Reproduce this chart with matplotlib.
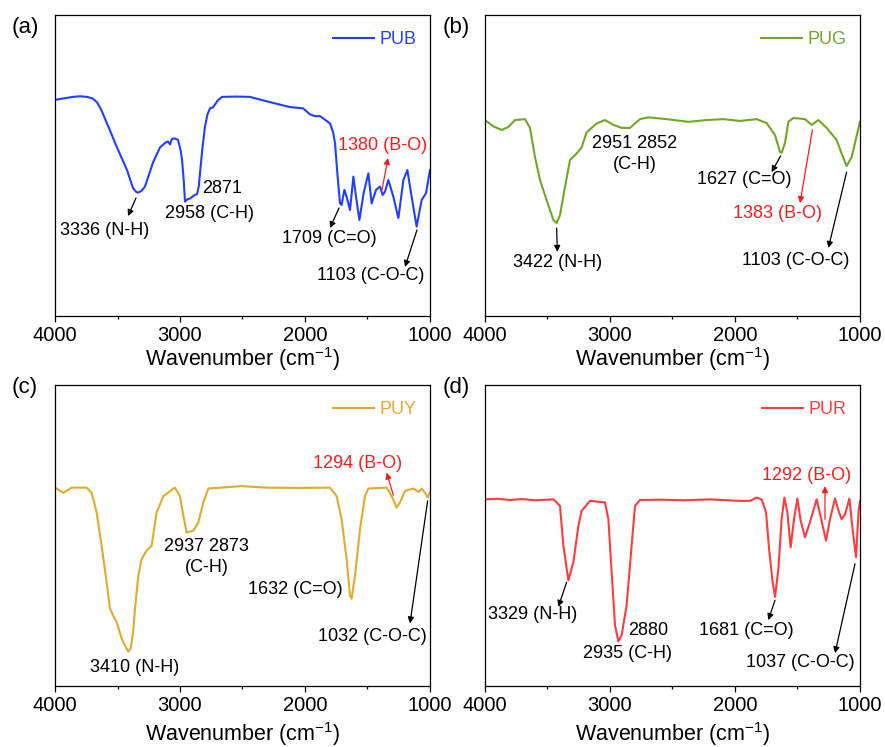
import matplotlib
matplotlib.use('Agg')
import matplotlib.pyplot as plt
from matplotlib.ticker import MultipleLocator

plt.rcParams['font.family'] = ['Liberation Sans', 'DejaVu Sans']
plt.rcParams['mathtext.fontset'] = 'custom'
plt.rcParams['mathtext.rm'] = 'Liberation Sans'
plt.rcParams['mathtext.default'] = 'regular'

# spectra (wavenumber, transmittance a.u.)
wn_pub = [4000, 3930, 3856, 3800, 3744, 3700, 3664, 3630, 3584, 3504, 3424, 3376, 3350, 3336, 3310,
          3280, 3216, 3160, 3120, 3096, 3080, 3065, 3040, 3016, 2995, 2984, 2970, 2960, 2940, 2920,
          2890, 2864, 2850, 2840, 2820, 2800, 2780, 2760, 2736, 2700, 2664, 2550, 2440, 2350, 2256,
          2120, 2016, 1960, 1920, 1880, 1840, 1800, 1775, 1760, 1739, 1720, 1707, 1685, 1667, 1640,
          1613, 1590, 1565, 1530, 1493, 1467, 1432, 1400, 1379, 1360, 1333, 1293, 1253, 1213, 1181,
          1147, 1107, 1067, 1032, 1000]
t_pub = [71.8, 72.3, 72.8, 73.0, 72.8, 72.3, 71.0, 68.5, 64.0, 56.0, 48.5, 42.5, 41.2, 41.0, 41.5,
         43.0, 51.0, 56.0, 57.5, 58.0, 57.0, 58.8, 59.0, 58.5, 55.0, 52.0, 45.0, 38.0, 38.8, 39.0,
         40.0, 40.5, 43.0, 47.5, 56.0, 63.0, 67.0, 69.0, 69.3, 71.5, 72.8, 72.9, 72.8, 71.8, 70.8,
         69.4, 69.0, 67.0, 66.4, 66.4, 65.2, 64.0, 61.0, 57.4, 46.3, 37.4, 36.9, 41.9, 39.6, 35.2,
         46.3, 39.0, 31.9, 41.0, 47.4, 37.4, 41.9, 43.0, 40.2, 41.3, 45.2, 39.6, 32.5, 45.2, 48.5,
         39.6, 29.7, 38.5, 40.8, 48.5]

wn_pug = [4000, 3933, 3867, 3813, 3760, 3680, 3640, 3600, 3560, 3507, 3453, 3427, 3400, 3360, 3320,
          3267, 3227, 3187, 3107, 3040, 2973, 2907, 2840, 2760, 2693, 2547, 2373, 2227, 2093, 1960,
          1827, 1747, 1680, 1640, 1627, 1600, 1573, 1533, 1440, 1387, 1333, 1267, 1187, 1147, 1107,
          1067, 1000]
t_pug = [65.1, 63.0, 61.8, 62.8, 65.1, 65.4, 62.5, 52.8, 45.2, 38.5, 31.9, 30.9, 33.5, 42.9, 51.8,
         54.0, 56.0, 61.0, 64.0, 65.1, 63.5, 62.5, 62.5, 65.4, 66.0, 65.4, 64.5, 65.1, 65.4, 64.8,
         65.4, 64.1, 60.1, 54.5, 54.2, 57.5, 64.5, 65.8, 65.4, 63.5, 65.1, 62.5, 58.5, 54.0, 49.8,
         52.8, 64.5]

wn_puy = [4000, 3933, 3867, 3747, 3707, 3667, 3627, 3587, 3560, 3530, 3507, 3467, 3435, 3413, 3395,
          3375, 3360, 3333, 3307, 3267, 3227, 3187, 3133, 3040, 3000, 2973, 2947, 2893, 2853, 2813,
          2773, 2507, 2307, 2040, 1800, 1747, 1707, 1667, 1640, 1627, 1600, 1560, 1520, 1493, 1347,
          1307, 1267, 1240, 1200, 1133, 1093, 1067, 1040, 1019, 1000]
t_puy = [65.9, 64.2, 65.9, 65.9, 64.2, 57.7, 46.6, 34.5, 25.7, 23.0, 21.3, 15.8, 13.0, 11.4, 12.5,
         18.0, 25.7, 36.7, 42.2, 45.0, 46.6, 57.7, 63.1, 65.9, 63.1, 56.5, 51.0, 51.6, 54.4, 61.0,
         65.6, 66.4, 65.9, 65.8, 65.9, 63.1, 55.4, 42.2, 30.1, 29.0, 36.7, 52.1, 63.1, 65.6, 65.9,
         63.1, 59.3, 61.0, 64.8, 65.6, 64.5, 65.6, 64.2, 62.6, 64.5]

wn_pur = [4000, 3900, 3800, 3700, 3600, 3450, 3400, 3373, 3333, 3293, 3253, 3227, 3160, 3040, 3013,
          2987, 2960, 2933, 2907, 2867, 2827, 2800, 2760, 2600, 2400, 2200, 1960, 1880, 1827, 1787,
          1752, 1725, 1699, 1680, 1653, 1627, 1605, 1581, 1555, 1528, 1501, 1475, 1440, 1400, 1347,
          1310, 1272, 1240, 1200, 1170, 1147, 1120, 1085, 1059, 1032, 1011, 1000]
t_pur = [62.0, 62.2, 61.8, 62.1, 61.7, 62.0, 59.8, 46.6, 35.1, 41.2, 53.2, 58.2, 61.5, 61.0, 55.4,
         37.9, 20.2, 14.8, 16.9, 26.8, 46.6, 59.8, 61.8, 61.9, 61.7, 62.0, 61.5, 61.5, 62.6, 62.0,
         57.7, 44.5, 34.6, 29.6, 38.9, 55.4, 62.6, 57.7, 46.1, 55.4, 62.3, 55.0, 49.4, 54.5, 62.0,
         55.4, 48.3, 55.4, 62.3, 58.0, 55.4, 57.0, 62.3, 52.0, 42.8, 58.2, 61.5]

names = ['PUB', 'PUG', 'PUY', 'PUR']
colors = ['#2040ff', '#6fa825', '#e3aa2c', '#ff3b3b']
panel_tags = ['(a)', '(b)', '(c)', '(d)']

W, H = 885, 747
fig = plt.figure(figsize=(W / 100, H / 100), dpi=100)


def px_axes(l, t, r, b):
    return fig.add_axes([l / W, 1 - b / H, (r - l) / W, (b - t) / H])


axs = [px_axes(55, 15, 430, 316), px_axes(485, 15, 860, 316),
       px_axes(55, 385, 430, 686), px_axes(485, 385, 860, 686)]
data = [(wn_pub, t_pub), (wn_pug, t_pug), (wn_puy, t_puy), (wn_pur, t_pur)]
label_y = [-0.142, -0.142, -0.158, -0.158]

for ax, (wn, t), nm, c, ly in zip(axs, data, names, colors, label_y):
    ax.plot(wn, t, color=c, lw=1.5, label=nm)
    ax.set_xlim(4000, 1000)
    ax.set_ylim(0, 100)
    ax.set_yticks([])
    ax.xaxis.set_major_locator(MultipleLocator(1000))
    ax.xaxis.set_minor_locator(MultipleLocator(500))
    ax.tick_params(axis='x', which='major', direction='out', length=4.5, width=0.9,
                   labelsize=14.5, pad=3)
    ax.tick_params(axis='x', which='minor', direction='out', length=2.5, width=0.9)
    for s in ax.spines.values():
        s.set_linewidth(0.9)
    ax.set_xlabel('Wavenumber (cm$^{-1}$)', fontsize=15.5, va='center')
    ax.xaxis.set_label_coords(0.5, ly)
    ax.legend(loc='center right', bbox_to_anchor=(0.965, 0.917), frameon=False,
              fontsize=13, handlelength=2.3, handletextpad=0.3, borderpad=0,
              borderaxespad=0, labelcolor='linecolor')

for tag, (x, y) in zip(panel_tags, [(12, 28), (443, 28), (12, 387), (443, 387)]):
    fig.text(x / W, 1 - y / H, tag, fontsize=16, va='center', ha='left')

fs = 13
red = '#ff1a1a'


def label(ax, x, y, s, color='k', ha='left'):
    ax.text(x, y, s, fontsize=fs, color=color, ha=ha, va='center', linespacing=1.3)


def arrow(ax, tail, head, color='k'):
    ax.annotate('', xy=head, xytext=tail,
                arrowprops=dict(arrowstyle='-|>', color=color, lw=0.9,
                                mutation_scale=9, shrinkA=0, shrinkB=0))


# (a)
ax = axs[0]
label(ax, 3960, 28.5, '3336 (N-H)')
arrow(ax, (3352, 39.2), (3416, 33.2))
label(ax, 3120, 34.2, '2958 (C-H)')
label(ax, 2824, 42.5, '2871')
label(ax, 2184, 25.6, '1709 (C=O)')
arrow(ax, (1728, 35.9), (1800, 29.2))
label(ax, 1736, 56.8, '1380 (B-O)', color=red)
arrow(ax, (1384, 41.9), (1336, 52.5), color=red)
label(ax, 1904, 13.3, '1103 (C-O-C)')
arrow(ax, (1104, 28.6), (1200, 16.3))

# (b)
ax = axs[1]
label(ax, 3776, 17.9, '3422 (N-H)')
arrow(ax, (3427, 29.2), (3421, 21.3))
label(ax, 2804, 53.7, '2951 2852\n(C-H)', ha='center')
label(ax, 2304, 45.2, '1627 (C=O)')
arrow(ax, (1635, 53.2), (1707, 47.8))
label(ax, 2019, 34.2, '1383 (B-O)', color=red)
arrow(ax, (1381, 61.8), (1480, 37.5), color=red)
label(ax, 1947, 18.6, '1103 (C-O-C)')
arrow(ax, (1107, 47.8), (1253, 22.6))

# (c)
ax = axs[2]
label(ax, 3720, 6.3, '3410 (N-H)')
label(ax, 2787, 42.8, '2937 2873\n(C-H)', ha='center')
label(ax, 2453, 32.0, '1632 (C=O)')
label(ax, 1936, 73.8, '1294 (B-O)', color=red)
arrow(ax, (1293, 63.4), (1347, 70.9), color=red)
label(ax, 1896, 16.6, '1032 (C-O-C)')
arrow(ax, (1019, 61.5), (1160, 20.8))

# (d)
ax = axs[3]
label(ax, 3979, 23.8, '3329 (N-H)')
arrow(ax, (3347, 34.5), (3413, 26.3))
label(ax, 2853, 18.4, '2880')
label(ax, 3219, 10.7, '2935 (C-H)')
label(ax, 2285, 18.4, '1681 (C=O)')
arrow(ax, (1680, 28.5), (1733, 21.9))
label(ax, 1787, 70.0, '1292 (B-O)', color=red)
arrow(ax, (1280, 55.4), (1280, 66.4), color=red)
label(ax, 1912, 7.8, '1037 (C-O-C)')
arrow(ax, (1040, 40.6), (1200, 10.9))

fig.savefig('out.png', dpi=100)
